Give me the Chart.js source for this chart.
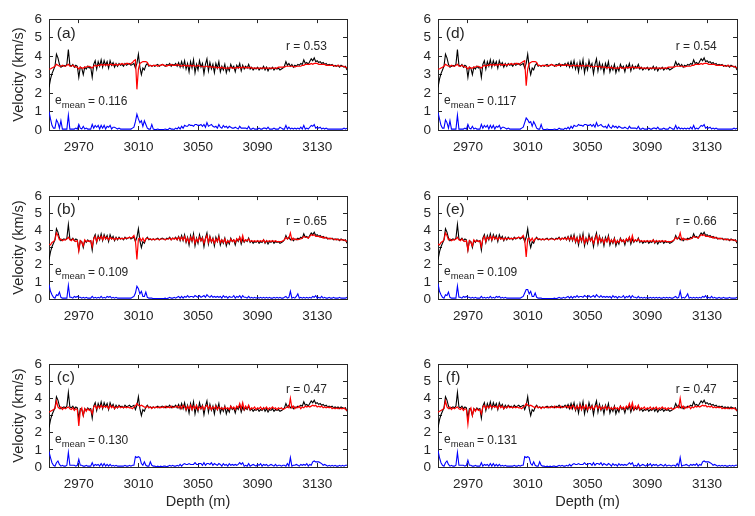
<!DOCTYPE html>
<html>
<head>
<meta charset="utf-8">
<script src="https://cdn.jsdelivr.net/npm/chart.js@4.4.0/dist/chart.umd.min.js"></script>
<style>
  html, body { margin: 0; padding: 0; background: #fff; }
  #fig { position: relative; width: 755px; height: 516px; overflow: hidden; background: #fff; }
  #fig canvas { position: absolute; }
</style>
</head>
<body>
<div id="fig"></div>
<script>
// one sample per metre, 2950 m .. 3150 m
const depthStart = 2950;
const depthEnd = 3150;
const depthTicks = [2970, 3010, 3050, 3090, 3130];
const velocityTicks = [0, 1, 2, 3, 4, 5, 6];

const panelTags = ['(a)', '(b)', '(c)', '(d)', '(e)', '(f)'];
const rValues = ['0.53', '0.65', '0.47', '0.54', '0.66', '0.47'];
const eMeans = ['0.116', '0.109', '0.130', '0.117', '0.109', '0.131'];

// measured velocity (black), same in every panel
const vTrue = [
  2.30,2.75,3.05,3.25,3.45,4.10,3.90,3.55,3.40,3.45,
  3.50,3.45,3.55,4.35,3.50,3.45,3.55,3.40,3.50,3.45,
  2.85,3.40,3.35,3.00,3.40,3.30,3.45,3.35,3.40,2.85,
  3.55,3.75,3.30,3.70,3.45,3.80,3.40,3.75,3.50,3.70,
  3.35,3.75,3.50,3.65,3.40,3.60,3.45,3.60,3.50,3.55,
  3.45,3.60,3.50,3.55,3.60,3.50,3.55,3.60,3.35,3.60,
  4.10,3.40,3.00,3.35,3.25,3.50,3.60,3.45,3.50,3.45,
  3.50,3.45,3.50,3.55,3.45,3.50,3.55,3.50,3.45,3.55,
  3.50,3.60,3.45,3.55,3.50,3.60,3.45,3.65,3.40,3.70,
  3.40,3.75,3.30,3.60,3.15,3.70,3.35,3.80,3.10,3.55,
  3.25,3.75,3.40,3.60,3.05,3.55,3.85,3.20,3.65,3.30,
  3.55,3.10,3.60,3.35,3.70,3.15,3.45,3.25,3.55,3.10,
  3.40,3.20,3.55,3.35,3.45,3.15,3.50,3.35,3.60,3.20,
  3.50,3.30,3.45,3.35,3.55,3.30,3.40,3.25,3.35,3.30,
  3.40,3.25,3.35,3.30,3.45,3.25,3.40,3.20,3.35,3.30,
  3.40,3.25,3.35,3.30,3.35,3.25,3.30,3.35,3.45,3.70,
  3.50,3.60,3.45,3.55,3.40,3.50,3.45,3.55,3.50,3.60,
  3.55,3.80,3.60,3.65,3.55,3.70,3.85,3.75,3.90,3.70,
  3.75,3.65,3.70,3.60,3.65,3.55,3.60,3.50,3.55,3.50,
  3.55,3.45,3.50,3.45,3.50,3.40,3.50,3.45,3.40,3.45,
  3.25
];

// predicted velocity (red)
const predA = [
  3.30,3.30,3.35,3.40,3.45,3.55,3.50,3.45,3.45,3.50,
  3.45,3.45,3.50,3.55,3.45,3.45,3.50,3.45,3.40,3.40,
  3.30,3.40,3.35,3.35,3.40,3.40,3.45,3.45,3.40,3.35,
  3.45,3.50,3.45,3.50,3.50,3.55,3.50,3.55,3.50,3.55,
  3.50,3.55,3.55,3.50,3.55,3.55,3.50,3.55,3.55,3.60,
  3.55,3.55,3.60,3.60,3.55,3.60,3.65,3.75,3.80,2.20,
  3.30,3.60,3.65,3.70,3.70,3.70,3.65,3.50,3.50,3.45,
  3.50,3.50,3.50,3.45,3.50,3.50,3.55,3.50,3.50,3.45,
  3.50,3.50,3.55,3.50,3.50,3.50,3.55,3.50,3.50,3.45,
  3.50,3.50,3.45,3.50,3.45,3.50,3.45,3.50,3.45,3.45,
  3.50,3.45,3.45,3.45,3.40,3.45,3.45,3.40,3.45,3.40,
  3.40,3.40,3.40,3.35,3.40,3.35,3.40,3.35,3.35,3.35,
  3.35,3.35,3.40,3.35,3.35,3.35,3.40,3.35,3.40,3.35,
  3.40,3.40,3.35,3.40,3.35,3.40,3.35,3.35,3.35,3.35,
  3.35,3.35,3.35,3.35,3.35,3.35,3.35,3.35,3.35,3.35,
  3.35,3.35,3.35,3.35,3.40,3.40,3.40,3.40,3.40,3.45,
  3.45,3.45,3.45,3.45,3.45,3.40,3.45,3.45,3.45,3.45,
  3.50,3.50,3.55,3.55,3.55,3.55,3.60,3.55,3.60,3.60,
  3.60,3.55,3.55,3.55,3.55,3.55,3.50,3.50,3.50,3.50,
  3.50,3.50,3.45,3.45,3.50,3.45,3.45,3.45,3.45,3.40,
  3.35
];
const predB = [
  3.20,3.15,3.30,3.35,3.45,3.85,3.70,3.45,3.50,3.40,
  3.45,3.45,3.50,3.60,3.45,3.40,3.50,3.40,3.35,3.40,
  2.80,3.40,3.30,3.10,3.45,3.35,3.40,3.35,3.40,3.05,
  3.50,3.65,3.35,3.60,3.50,3.65,3.45,3.65,3.50,3.60,
  3.45,3.60,3.50,3.55,3.45,3.55,3.50,3.55,3.50,3.55,
  3.50,3.55,3.55,3.55,3.60,3.55,3.60,3.70,3.40,2.30,
  3.50,3.55,3.40,3.55,3.35,3.50,3.55,3.50,3.50,3.45,
  3.50,3.45,3.50,3.50,3.45,3.50,3.50,3.50,3.45,3.50,
  3.50,3.55,3.45,3.55,3.50,3.55,3.45,3.60,3.45,3.60,
  3.45,3.65,3.35,3.55,3.30,3.60,3.40,3.65,3.25,3.50,
  3.35,3.60,3.40,3.55,3.25,3.50,3.70,3.30,3.60,3.35,
  3.50,3.25,3.50,3.35,3.60,3.30,3.45,3.30,3.50,3.25,
  3.40,3.30,3.50,3.35,3.45,3.30,3.50,3.40,3.60,3.35,
  3.70,3.35,3.45,3.40,3.50,3.35,3.40,3.35,3.40,3.35,
  3.40,3.35,3.40,3.35,3.45,3.30,3.40,3.35,3.40,3.35,
  3.40,3.35,3.40,3.35,3.35,3.35,3.35,3.40,3.45,3.60,
  3.50,3.55,3.85,3.45,3.55,3.45,3.50,3.45,3.50,3.50,
  3.55,3.65,3.60,3.60,3.55,3.65,3.75,3.70,3.75,3.65,
  3.65,3.65,3.60,3.65,3.55,3.60,3.55,3.55,3.50,3.55,
  3.50,3.50,3.45,3.50,3.45,3.45,3.45,3.45,3.45,3.40,
  3.35
];
const predC = [
  3.20,3.25,3.30,3.35,3.40,3.85,3.50,3.40,3.50,3.35,
  3.45,3.40,3.45,3.50,3.40,3.35,3.45,3.30,3.40,3.35,
  2.40,3.30,3.45,3.00,3.40,3.25,3.40,3.30,3.35,3.10,
  3.50,3.60,3.40,3.55,3.45,3.60,3.45,3.55,3.50,3.55,
  3.40,3.60,3.45,3.55,3.40,3.50,3.45,3.55,3.45,3.50,
  3.45,3.50,3.45,3.50,3.45,3.45,3.40,3.50,3.55,3.70,
  3.60,3.55,3.60,3.55,3.50,3.45,3.55,3.45,3.50,3.40,
  3.50,3.45,3.50,3.45,3.50,3.45,3.50,3.45,3.55,3.45,
  3.50,3.45,3.55,3.45,3.50,3.50,3.55,3.45,3.55,3.40,
  3.60,3.50,3.35,3.55,3.40,3.60,3.35,3.55,3.40,3.60,
  3.35,3.50,3.40,3.55,3.35,3.50,3.60,3.40,3.55,3.35,
  3.50,3.40,3.55,3.35,3.50,3.40,3.45,3.35,3.50,3.40,
  3.45,3.35,3.55,3.40,3.50,3.35,3.55,3.45,3.70,3.40,
  3.75,3.35,3.55,3.40,3.60,3.35,3.45,3.40,3.50,3.35,
  3.45,3.40,3.50,3.35,3.45,3.40,3.50,3.35,3.45,3.40,
  3.50,3.40,3.45,3.35,3.45,3.40,3.45,3.35,3.40,3.45,
  3.50,3.45,4.00,3.45,3.55,3.40,3.50,3.45,3.55,3.40,
  3.50,3.45,3.55,3.50,3.55,3.50,3.55,3.60,3.55,3.60,
  3.50,3.55,3.50,3.55,3.45,3.50,3.45,3.50,3.45,3.50,
  3.40,3.45,3.40,3.45,3.40,3.45,3.40,3.40,3.45,3.35,
  3.30
];
const predD = [
  3.30,3.30,3.35,3.40,3.45,3.55,3.50,3.45,3.45,3.50,
  3.45,3.45,3.50,3.55,3.45,3.45,3.50,3.45,3.40,3.40,
  3.30,3.40,3.35,3.35,3.40,3.40,3.45,3.45,3.40,3.35,
  3.45,3.50,3.45,3.50,3.50,3.55,3.50,3.55,3.50,3.55,
  3.50,3.55,3.55,3.50,3.55,3.55,3.50,3.55,3.55,3.60,
  3.55,3.55,3.60,3.60,3.55,3.60,3.65,3.70,3.75,2.40,
  3.30,3.60,3.65,3.70,3.70,3.70,3.65,3.50,3.50,3.45,
  3.50,3.50,3.50,3.45,3.50,3.50,3.55,3.50,3.50,3.45,
  3.50,3.50,3.55,3.50,3.50,3.50,3.55,3.50,3.50,3.45,
  3.50,3.50,3.45,3.50,3.45,3.50,3.45,3.50,3.45,3.45,
  3.50,3.45,3.45,3.45,3.40,3.45,3.45,3.40,3.45,3.40,
  3.40,3.40,3.40,3.35,3.40,3.35,3.40,3.35,3.35,3.35,
  3.35,3.35,3.40,3.35,3.35,3.35,3.40,3.35,3.40,3.35,
  3.40,3.40,3.35,3.40,3.35,3.40,3.35,3.35,3.35,3.35,
  3.35,3.35,3.35,3.35,3.35,3.35,3.35,3.35,3.35,3.35,
  3.35,3.35,3.35,3.35,3.40,3.40,3.40,3.40,3.40,3.45,
  3.45,3.45,3.45,3.45,3.45,3.40,3.45,3.45,3.45,3.45,
  3.50,3.50,3.55,3.55,3.55,3.55,3.60,3.55,3.60,3.60,
  3.60,3.55,3.55,3.55,3.55,3.55,3.50,3.50,3.50,3.50,
  3.50,3.50,3.45,3.45,3.50,3.45,3.45,3.45,3.45,3.40,
  3.35
];
const predE = [
  3.20,3.15,3.30,3.35,3.45,3.85,3.70,3.45,3.50,3.40,
  3.45,3.45,3.50,3.60,3.45,3.40,3.50,3.40,3.35,3.40,
  2.85,3.40,3.30,3.10,3.45,3.35,3.40,3.35,3.40,3.05,
  3.50,3.65,3.35,3.60,3.50,3.65,3.45,3.65,3.50,3.60,
  3.45,3.60,3.50,3.55,3.45,3.55,3.50,3.55,3.50,3.55,
  3.50,3.55,3.55,3.55,3.60,3.55,3.60,3.70,3.45,2.45,
  3.50,3.55,3.40,3.55,3.35,3.50,3.55,3.50,3.50,3.45,
  3.50,3.45,3.50,3.50,3.45,3.50,3.50,3.50,3.45,3.50,
  3.50,3.55,3.45,3.55,3.50,3.55,3.45,3.60,3.45,3.60,
  3.45,3.65,3.35,3.55,3.30,3.60,3.40,3.65,3.25,3.50,
  3.35,3.60,3.40,3.55,3.25,3.50,3.70,3.30,3.60,3.35,
  3.50,3.25,3.50,3.35,3.60,3.30,3.45,3.30,3.50,3.25,
  3.40,3.30,3.50,3.35,3.45,3.30,3.50,3.40,3.60,3.35,
  3.70,3.35,3.45,3.40,3.50,3.35,3.40,3.35,3.40,3.35,
  3.40,3.35,3.40,3.35,3.45,3.30,3.40,3.35,3.40,3.35,
  3.40,3.35,3.40,3.35,3.35,3.35,3.35,3.40,3.45,3.60,
  3.50,3.55,3.85,3.45,3.55,3.45,3.50,3.45,3.50,3.50,
  3.55,3.65,3.60,3.60,3.55,3.65,3.75,3.70,3.75,3.65,
  3.65,3.65,3.60,3.65,3.55,3.60,3.55,3.55,3.50,3.55,
  3.50,3.50,3.45,3.50,3.45,3.45,3.45,3.45,3.45,3.40,
  3.35
];
const predF = [
  3.20,3.25,3.30,3.35,3.40,3.85,3.50,3.40,3.50,3.35,
  3.45,3.40,3.45,3.50,3.40,3.35,3.45,3.30,3.40,3.35,
  2.50,3.30,3.45,3.00,3.40,3.25,3.40,3.30,3.35,3.10,
  3.50,3.60,3.40,3.55,3.45,3.60,3.45,3.55,3.50,3.55,
  3.40,3.60,3.45,3.55,3.40,3.50,3.45,3.55,3.45,3.50,
  3.45,3.50,3.45,3.50,3.45,3.45,3.40,3.50,3.55,3.70,
  3.60,3.55,3.60,3.55,3.50,3.45,3.55,3.45,3.50,3.40,
  3.50,3.45,3.50,3.45,3.50,3.45,3.50,3.45,3.55,3.45,
  3.50,3.45,3.55,3.45,3.50,3.50,3.55,3.45,3.55,3.40,
  3.60,3.50,3.35,3.55,3.40,3.60,3.35,3.55,3.40,3.60,
  3.35,3.50,3.40,3.55,3.35,3.50,3.60,3.40,3.55,3.35,
  3.50,3.40,3.55,3.35,3.50,3.40,3.45,3.35,3.50,3.40,
  3.45,3.35,3.55,3.40,3.50,3.35,3.55,3.45,3.70,3.40,
  3.75,3.35,3.55,3.40,3.60,3.35,3.45,3.40,3.50,3.35,
  3.45,3.40,3.50,3.35,3.45,3.40,3.50,3.35,3.45,3.40,
  3.50,3.40,3.45,3.35,3.45,3.40,3.45,3.35,3.40,3.45,
  3.50,3.45,4.00,3.45,3.55,3.40,3.50,3.45,3.55,3.40,
  3.50,3.45,3.55,3.50,3.55,3.50,3.55,3.60,3.55,3.60,
  3.50,3.55,3.50,3.55,3.45,3.50,3.45,3.50,3.45,3.50,
  3.40,3.45,3.40,3.45,3.40,3.45,3.40,3.40,3.45,3.35,
  3.30
];

// prediction error (blue)
const errA = [
  1.00,0.60,0.25,0.10,0.10,0.55,0.40,0.10,0.50,0.05,
  0.05,0.05,0.05,0.80,0.05,0.05,0.05,0.05,0.10,0.05,
  0.30,0.10,0.05,0.20,0.05,0.10,0.05,0.05,0.05,0.30,
  0.10,0.25,0.15,0.25,0.05,0.25,0.10,0.25,0.05,0.20,
  0.15,0.25,0.05,0.15,0.15,0.10,0.05,0.10,0.05,0.05,
  0.05,0.05,0.05,0.05,0.05,0.05,0.10,0.15,0.45,0.85,
  0.60,0.40,0.50,0.20,0.50,0.30,0.10,0.05,0.05,0.30,
  0.05,0.02,0.02,0.05,0.02,0.03,0.02,0.03,0.05,0.02,
  0.03,0.10,0.05,0.05,0.03,0.10,0.05,0.15,0.05,0.20,
  0.10,0.25,0.20,0.20,0.30,0.25,0.25,0.20,0.30,0.30,
  0.25,0.25,0.30,0.20,0.30,0.15,0.40,0.20,0.25,0.30,
  0.20,0.15,0.20,0.10,0.30,0.15,0.10,0.25,0.15,0.20,
  0.10,0.20,0.15,0.10,0.10,0.15,0.10,0.05,0.20,0.10,
  0.10,0.10,0.10,0.05,0.20,0.05,0.05,0.10,0.05,0.05,
  0.05,0.10,0.05,0.05,0.10,0.10,0.05,0.15,0.05,0.05,
  0.05,0.10,0.05,0.05,0.05,0.15,0.10,0.05,0.05,0.25,
  0.05,0.15,0.05,0.10,0.05,0.10,0.05,0.10,0.05,0.15,
  0.05,0.25,0.05,0.10,0.05,0.15,0.25,0.20,0.30,0.10,
  0.15,0.10,0.15,0.05,0.10,0.05,0.10,0.05,0.05,0.05,
  0.05,0.05,0.05,0.05,0.05,0.05,0.05,0.05,0.10,0.05,
  0.10
];
const errB = [
  0.85,0.45,0.25,0.10,0.05,0.25,0.20,0.40,0.10,0.05,
  0.05,0.05,0.05,0.80,0.10,0.10,0.05,0.15,0.10,0.15,
  0.10,0.10,0.05,0.10,0.05,0.10,0.05,0.05,0.05,0.15,
  0.05,0.10,0.05,0.10,0.05,0.15,0.05,0.10,0.05,0.15,
  0.10,0.15,0.05,0.10,0.05,0.10,0.05,0.05,0.05,0.05,
  0.05,0.05,0.05,0.05,0.05,0.05,0.10,0.15,0.35,0.75,
  0.60,0.30,0.45,0.15,0.15,0.40,0.10,0.05,0.05,0.05,
  0.02,0.02,0.02,0.03,0.02,0.03,0.02,0.03,0.05,0.02,
  0.05,0.10,0.05,0.05,0.10,0.05,0.10,0.15,0.05,0.15,
  0.05,0.15,0.10,0.20,0.10,0.15,0.15,0.10,0.20,0.15,
  0.10,0.20,0.10,0.15,0.20,0.10,0.25,0.15,0.10,0.20,
  0.10,0.15,0.10,0.15,0.10,0.15,0.05,0.20,0.10,0.15,
  0.05,0.15,0.10,0.10,0.20,0.05,0.15,0.10,0.20,0.05,
  0.20,0.10,0.10,0.05,0.15,0.05,0.10,0.05,0.10,0.05,
  0.10,0.05,0.10,0.05,0.10,0.05,0.10,0.05,0.10,0.05,
  0.05,0.10,0.05,0.10,0.05,0.10,0.05,0.05,0.10,0.15,
  0.05,0.10,0.45,0.05,0.10,0.05,0.15,0.30,0.05,0.10,
  0.05,0.10,0.05,0.10,0.05,0.10,0.05,0.15,0.10,0.20,
  0.05,0.10,0.05,0.15,0.05,0.10,0.05,0.05,0.10,0.05,
  0.05,0.10,0.05,0.05,0.05,0.10,0.05,0.05,0.05,0.05,
  0.10
];
const errC = [
  0.90,0.55,0.25,0.10,0.05,0.25,0.35,0.15,0.05,0.10,
  0.05,0.05,0.10,0.85,0.10,0.10,0.10,0.10,0.05,0.10,
  0.45,0.10,0.10,0.05,0.05,0.10,0.05,0.05,0.05,0.25,
  0.05,0.15,0.10,0.15,0.05,0.20,0.05,0.20,0.05,0.15,
  0.05,0.15,0.05,0.10,0.05,0.10,0.05,0.05,0.05,0.05,
  0.05,0.10,0.05,0.05,0.10,0.05,0.10,0.10,0.60,0.55,
  0.60,0.55,0.20,0.10,0.30,0.10,0.05,0.05,0.30,0.10,
  0.05,0.05,0.02,0.05,0.02,0.05,0.02,0.05,0.05,0.02,
  0.05,0.10,0.05,0.10,0.05,0.05,0.10,0.05,0.15,0.05,
  0.15,0.20,0.15,0.15,0.20,0.15,0.15,0.15,0.25,0.15,
  0.15,0.20,0.20,0.10,0.25,0.10,0.20,0.20,0.15,0.25,
  0.10,0.20,0.15,0.10,0.20,0.15,0.05,0.20,0.10,0.15,
  0.05,0.20,0.10,0.15,0.10,0.15,0.10,0.15,0.25,0.15,
  0.25,0.05,0.10,0.05,0.20,0.05,0.10,0.15,0.10,0.05,
  0.15,0.10,0.20,0.05,0.15,0.10,0.15,0.05,0.10,0.15,
  0.10,0.05,0.15,0.05,0.10,0.10,0.05,0.10,0.10,0.05,
  0.20,0.05,0.55,0.05,0.10,0.10,0.15,0.10,0.05,0.15,
  0.10,0.15,0.10,0.20,0.05,0.15,0.10,0.30,0.35,0.30,
  0.30,0.30,0.25,0.20,0.10,0.15,0.10,0.05,0.10,0.05,
  0.10,0.05,0.10,0.05,0.05,0.10,0.05,0.10,0.05,0.10,
  0.10
];
const errD = [
  0.95,0.60,0.25,0.10,0.10,0.55,0.40,0.10,0.50,0.05,
  0.05,0.05,0.05,0.80,0.05,0.05,0.05,0.05,0.10,0.05,
  0.30,0.10,0.05,0.20,0.05,0.10,0.05,0.05,0.05,0.30,
  0.10,0.25,0.15,0.25,0.05,0.25,0.10,0.25,0.05,0.20,
  0.15,0.25,0.05,0.15,0.15,0.10,0.05,0.10,0.05,0.05,
  0.05,0.05,0.05,0.05,0.05,0.05,0.10,0.15,0.40,0.65,
  0.55,0.40,0.45,0.20,0.45,0.30,0.10,0.05,0.05,0.30,
  0.05,0.02,0.02,0.05,0.02,0.03,0.02,0.03,0.05,0.02,
  0.03,0.10,0.05,0.05,0.03,0.10,0.05,0.15,0.05,0.20,
  0.10,0.25,0.20,0.20,0.30,0.25,0.25,0.20,0.30,0.30,
  0.25,0.25,0.30,0.20,0.30,0.15,0.40,0.20,0.25,0.30,
  0.20,0.15,0.20,0.10,0.30,0.15,0.10,0.25,0.15,0.20,
  0.10,0.20,0.15,0.10,0.10,0.15,0.10,0.05,0.20,0.10,
  0.10,0.10,0.10,0.05,0.20,0.05,0.05,0.10,0.05,0.05,
  0.05,0.10,0.05,0.05,0.10,0.10,0.05,0.15,0.05,0.05,
  0.05,0.10,0.05,0.05,0.05,0.15,0.10,0.05,0.05,0.25,
  0.05,0.15,0.05,0.10,0.05,0.10,0.05,0.10,0.05,0.15,
  0.05,0.25,0.05,0.10,0.05,0.15,0.25,0.20,0.30,0.10,
  0.15,0.10,0.15,0.05,0.10,0.05,0.10,0.05,0.05,0.05,
  0.05,0.05,0.05,0.05,0.05,0.05,0.05,0.05,0.10,0.05,
  0.10
];
const errE = [
  0.90,0.45,0.25,0.10,0.05,0.25,0.20,0.40,0.10,0.05,
  0.05,0.05,0.05,0.75,0.10,0.10,0.05,0.15,0.10,0.15,
  0.10,0.10,0.05,0.10,0.05,0.10,0.05,0.05,0.05,0.15,
  0.05,0.10,0.05,0.10,0.05,0.15,0.05,0.10,0.05,0.15,
  0.10,0.15,0.05,0.10,0.05,0.10,0.05,0.05,0.05,0.05,
  0.05,0.05,0.05,0.05,0.05,0.05,0.10,0.15,0.35,0.55,
  0.55,0.30,0.45,0.15,0.15,0.35,0.10,0.05,0.05,0.05,
  0.02,0.02,0.02,0.03,0.02,0.03,0.02,0.03,0.05,0.02,
  0.05,0.10,0.05,0.05,0.10,0.05,0.10,0.15,0.05,0.15,
  0.05,0.15,0.10,0.20,0.10,0.15,0.15,0.10,0.20,0.15,
  0.10,0.20,0.10,0.15,0.20,0.10,0.25,0.15,0.10,0.20,
  0.10,0.15,0.10,0.15,0.10,0.15,0.05,0.20,0.10,0.15,
  0.05,0.15,0.10,0.10,0.20,0.05,0.15,0.10,0.20,0.05,
  0.20,0.10,0.10,0.05,0.15,0.05,0.10,0.05,0.10,0.05,
  0.10,0.05,0.10,0.05,0.10,0.05,0.10,0.05,0.10,0.05,
  0.05,0.10,0.05,0.10,0.05,0.10,0.05,0.05,0.10,0.15,
  0.05,0.10,0.45,0.05,0.10,0.05,0.15,0.30,0.05,0.10,
  0.05,0.10,0.05,0.10,0.05,0.10,0.05,0.15,0.10,0.20,
  0.05,0.10,0.05,0.15,0.05,0.10,0.05,0.05,0.10,0.05,
  0.05,0.10,0.05,0.05,0.05,0.10,0.05,0.05,0.05,0.05,
  0.10
];
const errF = [
  0.95,0.55,0.25,0.10,0.05,0.25,0.35,0.15,0.05,0.10,
  0.05,0.05,0.10,0.85,0.10,0.10,0.10,0.10,0.05,0.10,
  0.40,0.10,0.10,0.05,0.05,0.10,0.05,0.05,0.05,0.25,
  0.05,0.15,0.10,0.15,0.05,0.20,0.05,0.20,0.05,0.15,
  0.05,0.15,0.05,0.10,0.05,0.10,0.05,0.05,0.05,0.05,
  0.05,0.10,0.05,0.05,0.10,0.05,0.10,0.10,0.60,0.55,
  0.60,0.55,0.20,0.10,0.30,0.10,0.05,0.05,0.30,0.10,
  0.05,0.05,0.02,0.05,0.02,0.05,0.02,0.05,0.05,0.02,
  0.05,0.10,0.05,0.10,0.05,0.05,0.10,0.05,0.15,0.05,
  0.15,0.20,0.15,0.15,0.20,0.15,0.15,0.15,0.25,0.15,
  0.15,0.20,0.20,0.10,0.25,0.10,0.20,0.20,0.15,0.25,
  0.10,0.20,0.15,0.10,0.20,0.15,0.05,0.20,0.10,0.15,
  0.05,0.20,0.10,0.15,0.10,0.15,0.10,0.15,0.25,0.15,
  0.25,0.05,0.10,0.05,0.20,0.05,0.10,0.15,0.10,0.05,
  0.15,0.10,0.20,0.05,0.15,0.10,0.15,0.05,0.10,0.15,
  0.10,0.05,0.15,0.05,0.10,0.10,0.05,0.10,0.10,0.05,
  0.20,0.05,0.55,0.05,0.10,0.10,0.15,0.10,0.05,0.15,
  0.10,0.15,0.10,0.20,0.05,0.15,0.10,0.30,0.35,0.30,
  0.30,0.30,0.25,0.20,0.10,0.15,0.10,0.05,0.10,0.05,
  0.10,0.05,0.10,0.05,0.05,0.10,0.05,0.10,0.05,0.10,
  0.10
];

const preds = [predA, predB, predC, predD, predE, predF];
const errs = [errA, errB, errC, errD, errE, errF];

// depth sample grid used as x labels
const depths = [];
for (let d = depthStart; d <= depthEnd; d++) depths.push(d);

// plot-area boxes on the page (pixels)
const boxes = [
  { left: 49,  right: 347, top: 10,  bottom: 130 },
  { left: 49,  right: 347, top: 187, bottom: 299 },
  { left: 49,  right: 347, top: 355, bottom: 467 },
  { left: 438, right: 737, top: 10,  bottom: 130 },
  { left: 438, right: 737, top: 187, bottom: 299 },
  { left: 438, right: 737, top: 355, bottom: 467 }
];

const FONT = '"Liberation Sans", Arial, Helvetica, sans-serif';
const INK = '#262626';
Chart.defaults.font.family = FONT;
Chart.defaults.color = INK;

const Y_W = 49;   // room for y tick labels + title
const X_H = 48;   // room for x tick labels + title
const PAD_T = 10, PAD_R = 10;

function textPlugin(i) {
  return {
    id: 'panelText' + i,
    afterDraw(chart) {
      const ctx = chart.ctx;
      const xs = chart.scales.x, ys = chart.scales.y;
      ctx.save();
      ctx.fillStyle = INK;
      ctx.textAlign = 'left';
      ctx.textBaseline = 'middle';
      ctx.font = '15.5px ' + FONT;
      ctx.fillText(panelTags[i], xs.getPixelForValue(2955.2), ys.getPixelForValue(5.2));
      ctx.font = '12px ' + FONT;
      ctx.fillText('r = ' + rValues[i], xs.getPixelForValue(3109), ys.getPixelForValue(4.49));
      // e_mean label with subscript
      const px = xs.getPixelForValue(2954);
      const py = ys.getPixelForValue(1.58);
      ctx.textBaseline = 'alphabetic';
      ctx.fillText('e', px, py + 3.5);
      const ew = ctx.measureText('e').width;
      ctx.font = '9.5px ' + FONT;
      ctx.fillText('mean', px + ew, py + 7.5);
      const mw = ctx.measureText('mean').width;
      ctx.font = '12px ' + FONT;
      ctx.fillText('= ' + eMeans[i], px + ew + mw + 2.5, py + 4);
      ctx.restore();
    }
  };
}

const fig = document.getElementById('fig');

boxes.forEach((b, i) => {
  const leftCol = i < 3;
  const bottomRow = i === 2 || i === 5;
  const cv = document.createElement('canvas');
  const w = (b.right - b.left) + Y_W + PAD_R;
  const h = (b.bottom - b.top) + PAD_T + X_H;
  cv.width = w; cv.height = h;
  cv.style.width = w + 'px'; cv.style.height = h + 'px';
  cv.style.left = (b.left - Y_W) + 'px';
  cv.style.top = (b.top - PAD_T) + 'px';
  fig.appendChild(cv);

  const setDepthTicks = s => { s.ticks = depthTicks.map(v => ({ value: v })); };
  const setVelTicks = s => { s.ticks = velocityTicks.map(v => ({ value: v })); };
  const gridOpts = { drawOnChartArea: false, tickLength: -4, color: INK, lineWidth: 1 };
  const borderOpts = { color: INK, width: 1 };

  new Chart(cv, {
    type: 'line',
    data: {
      labels: depths,
      datasets: [
        { data: preds[i], borderColor: '#ff0000', borderWidth: 1.2 },
        { data: vTrue, borderColor: '#000000', borderWidth: 1.1 },
        { data: errs[i], borderColor: '#0000ff', borderWidth: 1.1 }
      ]
    },
    options: {
      responsive: false,
      animation: false,
      events: [],
      elements: { point: { radius: 0 }, line: { tension: 0, fill: false } },
      layout: { padding: { top: PAD_T, right: PAD_R, left: 0, bottom: 0 } },
      plugins: { legend: { display: false }, tooltip: { enabled: false } },
      scales: {
        x: {
          type: 'linear', position: 'bottom', min: depthStart, max: depthEnd,
          afterBuildTicks: setDepthTicks,
          afterFit: s => { s.height = X_H; },
          ticks: { font: { size: 13.5 }, padding: 13, maxRotation: 0, autoSkip: false, callback: v => String(v) },
          grid: gridOpts, border: borderOpts,
          title: { display: bottomRow, text: 'Depth (m)', font: { size: 14.5 }, padding: { top: 0, bottom: 4 } }
        },
        x2: {
          type: 'linear', position: 'top', min: depthStart, max: depthEnd,
          afterBuildTicks: setDepthTicks,
          afterFit: s => { s.height = 0; },
          ticks: { display: false },
          grid: gridOpts, border: borderOpts
        },
        y: {
          type: 'linear', position: 'left', min: 0, max: 6,
          afterBuildTicks: setVelTicks,
          afterFit: s => { s.width = Y_W; },
          ticks: { font: { size: 13.5 }, padding: 11, autoSkip: false, callback: v => String(v) },
          grid: gridOpts, border: borderOpts,
          title: { display: leftCol, text: 'Velocity (km/s)', font: { size: 14.5 }, padding: { top: 10, bottom: 4 } }
        },
        y2: {
          type: 'linear', position: 'right', min: 0, max: 6,
          afterBuildTicks: setVelTicks,
          afterFit: s => { s.width = 0; },
          ticks: { display: false },
          grid: gridOpts, border: borderOpts
        }
      }
    },
    plugins: [textPlugin(i)]
  });
});
</script>
</body>
</html>
